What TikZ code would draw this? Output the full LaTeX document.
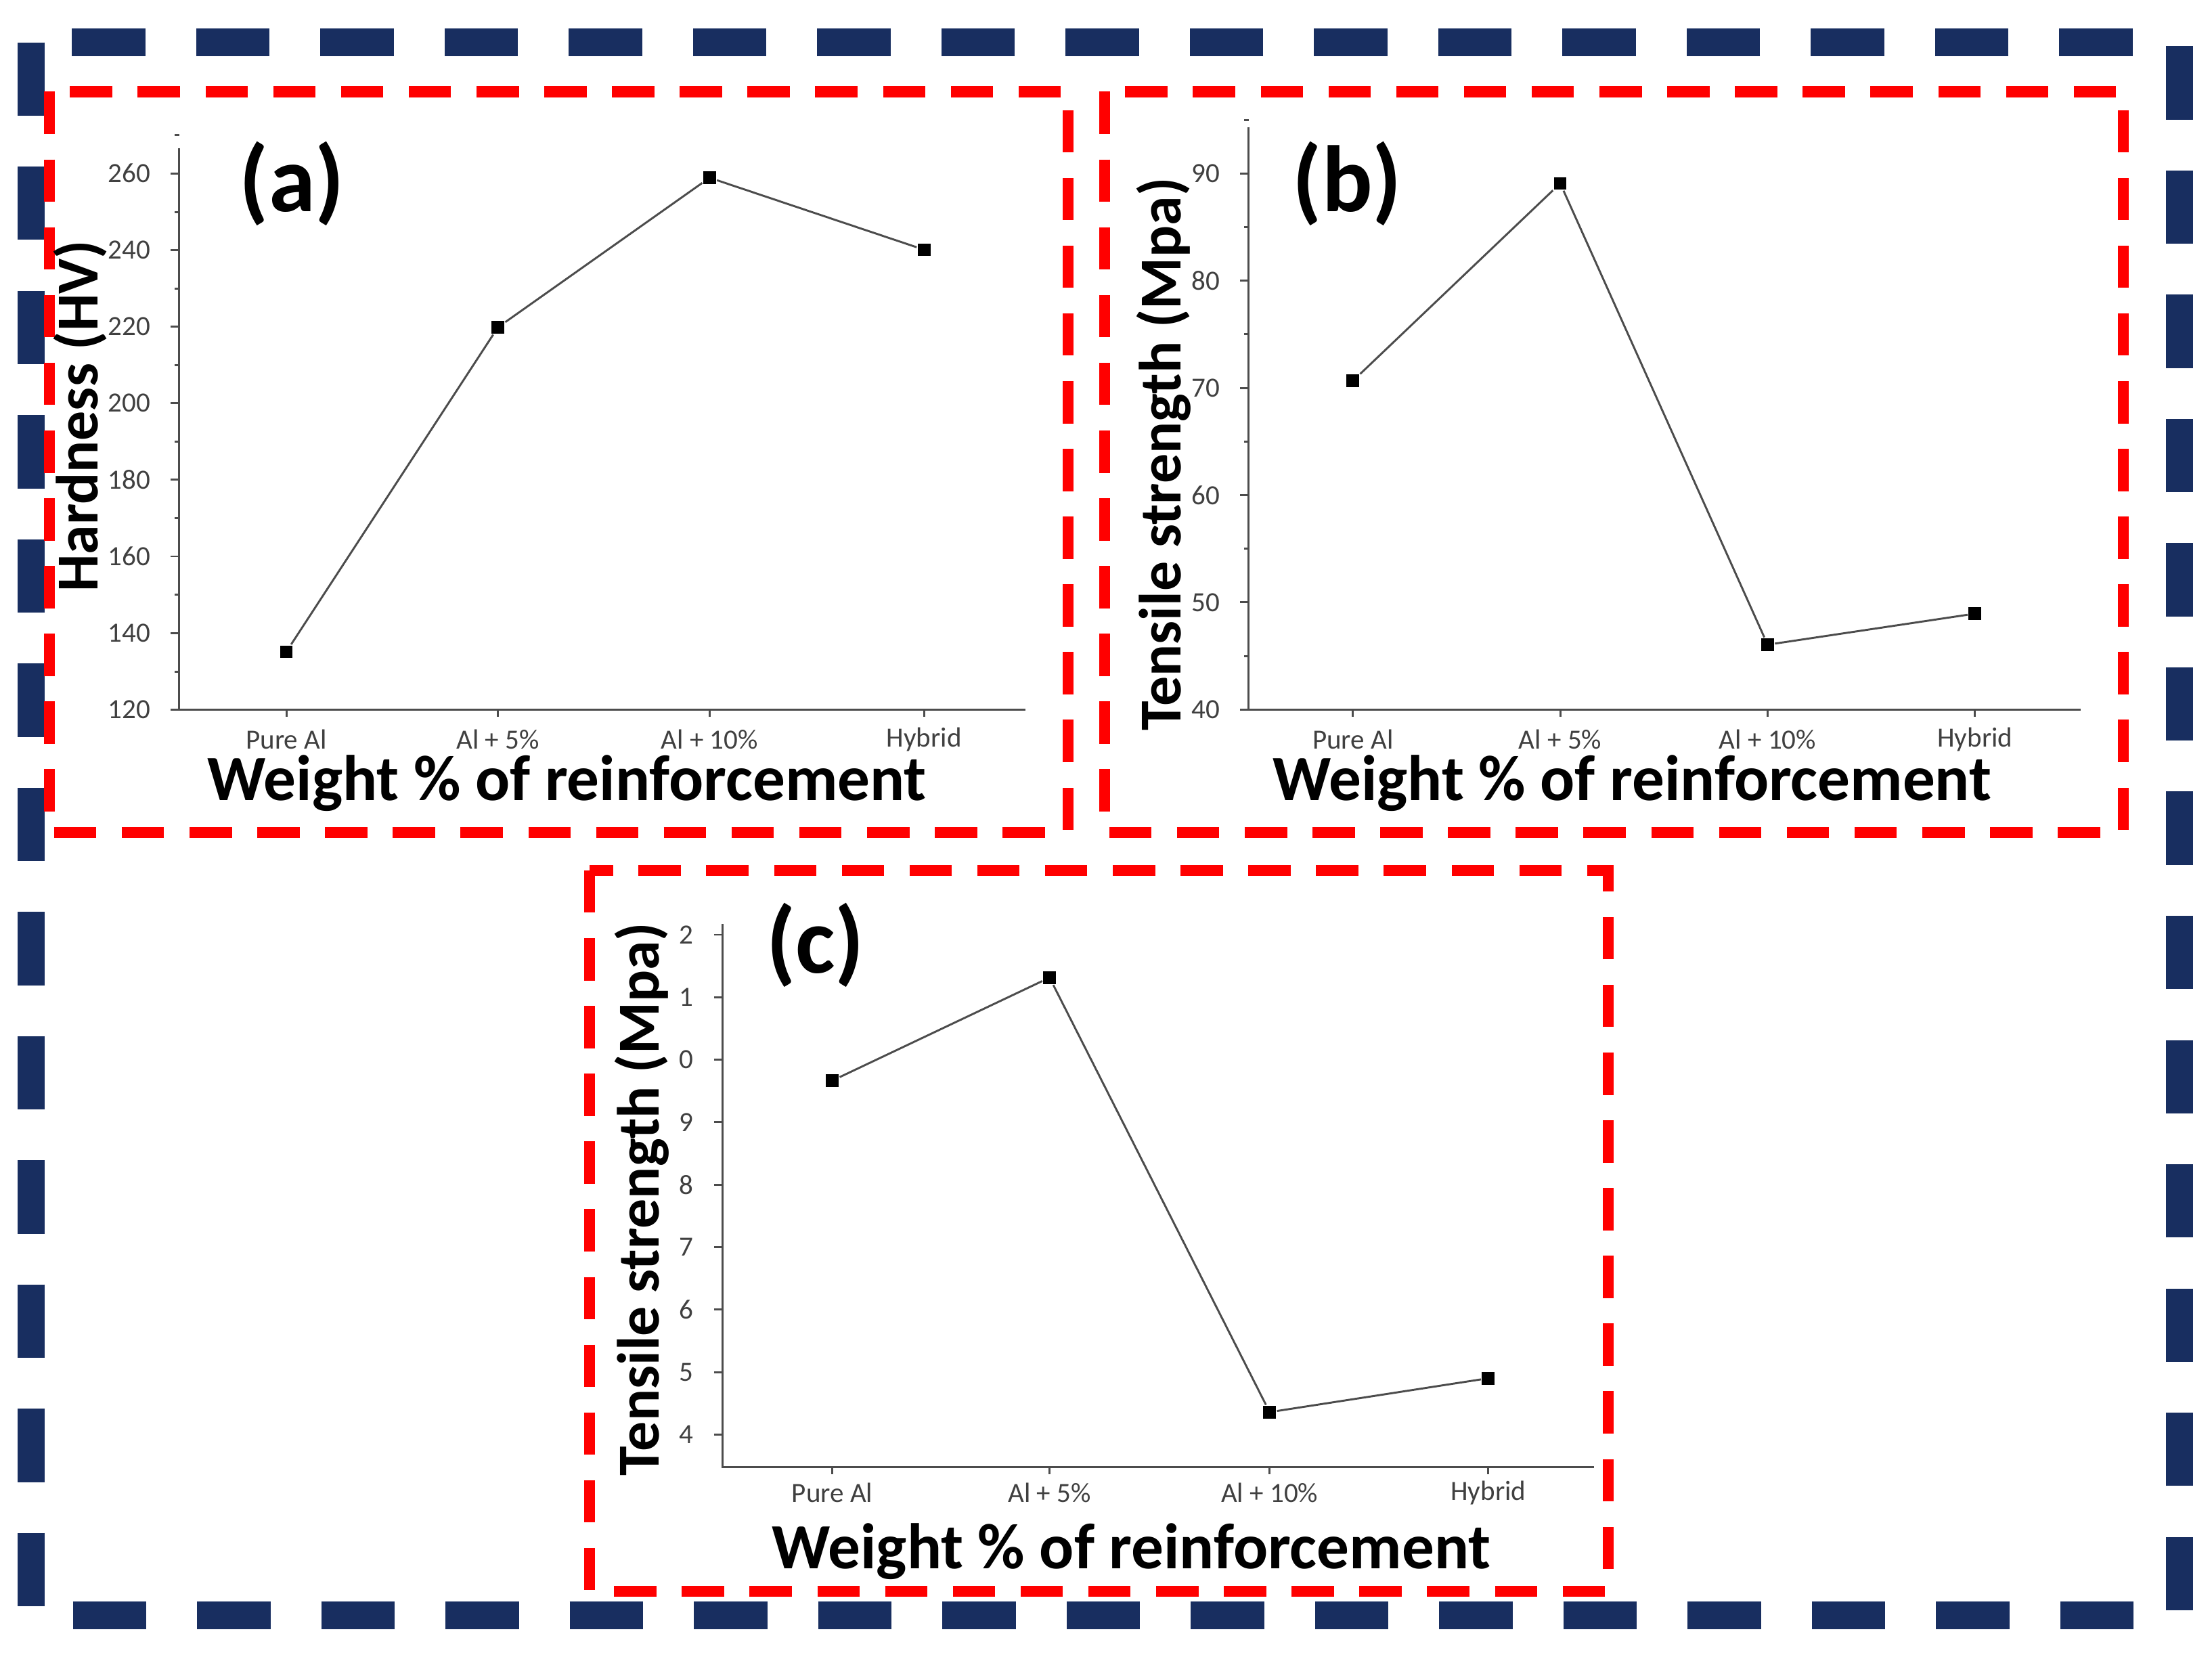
\documentclass[tikz,border=0pt]{standalone}
\usepackage{fontspec}
\setmainfont{Carlito}
\definecolor{framenavy}{RGB}{24,46,96}
\begin{document}
\begin{tikzpicture}[x=0.01cm,y=-0.01cm,
    navyframe/.style={draw=framenavy, line width=5.5pt, dash pattern=on 0.52cm off 0.36cm},
    redframe/.style={draw=red, line width=2.2pt, dash pattern=on 0.3cm off 0.18cm},
    pt/.style={fill=black, inner sep=0pt, minimum size=0.09cm},
    tlab/.style={font=\fontsize{5.6}{7}\selectfont, text=black!75},
    axlab/.style={font=\fontsize{13}{15}\selectfont\bfseries},
    ylab/.style={font=\fontsize{12}{14}\selectfont\bfseries, rotate=90},
    panel/.style={font=\fontsize{19}{22}\selectfont\bfseries}]
    \useasboundingbox (0,0) rectangle (1568,1176);
    % Frames
    \draw [navyframe] (22,30) rectangle (1545,1145);
    \draw [redframe] (35,65) rectangle (757,590);
    \draw [redframe] (783,65) rectangle (1505,590);
    \draw [redframe] (418,617) rectangle (1140,1128);
    % Panel (a)
    \draw [black!70, thin] (127,105) -- (127,503) -- (727,503);
    \foreach \v [count=\i from 0] in {120,140,...,260} {
        \draw [black!70, thin] (127,503-54.3*\i) -- ++(-6,0);
        \draw [black!70, thin] (127,476-54.3*\i) -- ++(-3,0);
        \node [tlab, left] at (119,503-54.3*\i) {\v};
    }
    \foreach \x/\t in {203/Pure Al,353/Al + 5\%,503/Al + 10\%,655/Hybrid} {
        \draw [black!70, thin] (\x,503) -- ++(0,5);
        \node [tlab] at (\x,524) {\t};
    }
    \node [pt] (a1) at (203,462) {};
    \node [pt] (a2) at (353,232) {};
    \node [pt] (a3) at (503,126) {};
    \node [pt] (a4) at (655,177) {};
    \draw [black!70, thin] (a1) -- (a2) -- (a3) -- (a4);
    \node [ylab] (ya) at (57,295) {Hardness (HV)};
    \node [axlab] (xa) at (402,555) {Weight \% of reinforcement};
    \node [panel] (la) at (207,130) {(a)};
    % Panel (b)
    \draw [black!70, thin] (885,90) -- (885,503) -- (1475,503);
    \foreach \v [count=\i from 0] in {40,50,...,90} {
        \draw [black!70, thin] (885,503-76*\i) -- ++(-6,0);
        \draw [black!70, thin] (885,465-76*\i) -- ++(-3,0);
        \node [tlab, left] at (877,503-76*\i) {\v};
    }
    \foreach \x/\t in {959/Pure Al,1106/Al + 5\%,1253/Al + 10\%,1400/Hybrid} {
        \draw [black!70, thin] (\x,503) -- ++(0,5);
        \node [tlab] at (\x,524) {\t};
    }
    \node [pt] (b1) at (959,270) {};
    \node [pt] (b2) at (1106,130) {};
    \node [pt] (b3) at (1253,457) {};
    \node [pt] (b4) at (1400,435) {};
    \draw [black!70, thin] (b1) -- (b2) -- (b3) -- (b4);
    \node [ylab] (yb) at (825,322) {Tensile strength (Mpa)};
    \node [axlab] (xb) at (1157,555) {Weight \% of reinforcement};
    \node [panel] (lb) at (955,130) {(b)};
    % Panel (c)
    \draw [black!70, thin] (512,655) -- (512,1040) -- (1130,1040);
    \foreach \v [count=\i from 0] in {4,5,6,7,8,9,0,1,2} {
        \draw [black!70, thin] (512,1017-44.3*\i) -- ++(-6,0);
        \node [tlab, left] at (504,1017-44.3*\i) {\v};
    }
    \foreach \x/\t in {590/Pure Al,744/Al + 5\%,900/Al + 10\%,1055/Hybrid} {
        \draw [black!70, thin] (\x,1040) -- ++(0,5);
        \node [tlab] at (\x,1058) {\t};
    }
    \node [pt] (c1) at (590,766) {};
    \node [pt] (c2) at (744,693) {};
    \node [pt] (c3) at (900,1001) {};
    \node [pt] (c4) at (1055,977) {};
    \draw [black!70, thin] (c1) -- (c2) -- (c3) -- (c4);
    \node [ylab] (yc) at (455,850) {Tensile strength (Mpa)};
    \node [axlab] (xc) at (802,1100) {Weight \% of reinforcement};
    \node [panel] (lc) at (578,670) {(c)};
\end{tikzpicture}
\end{document}
